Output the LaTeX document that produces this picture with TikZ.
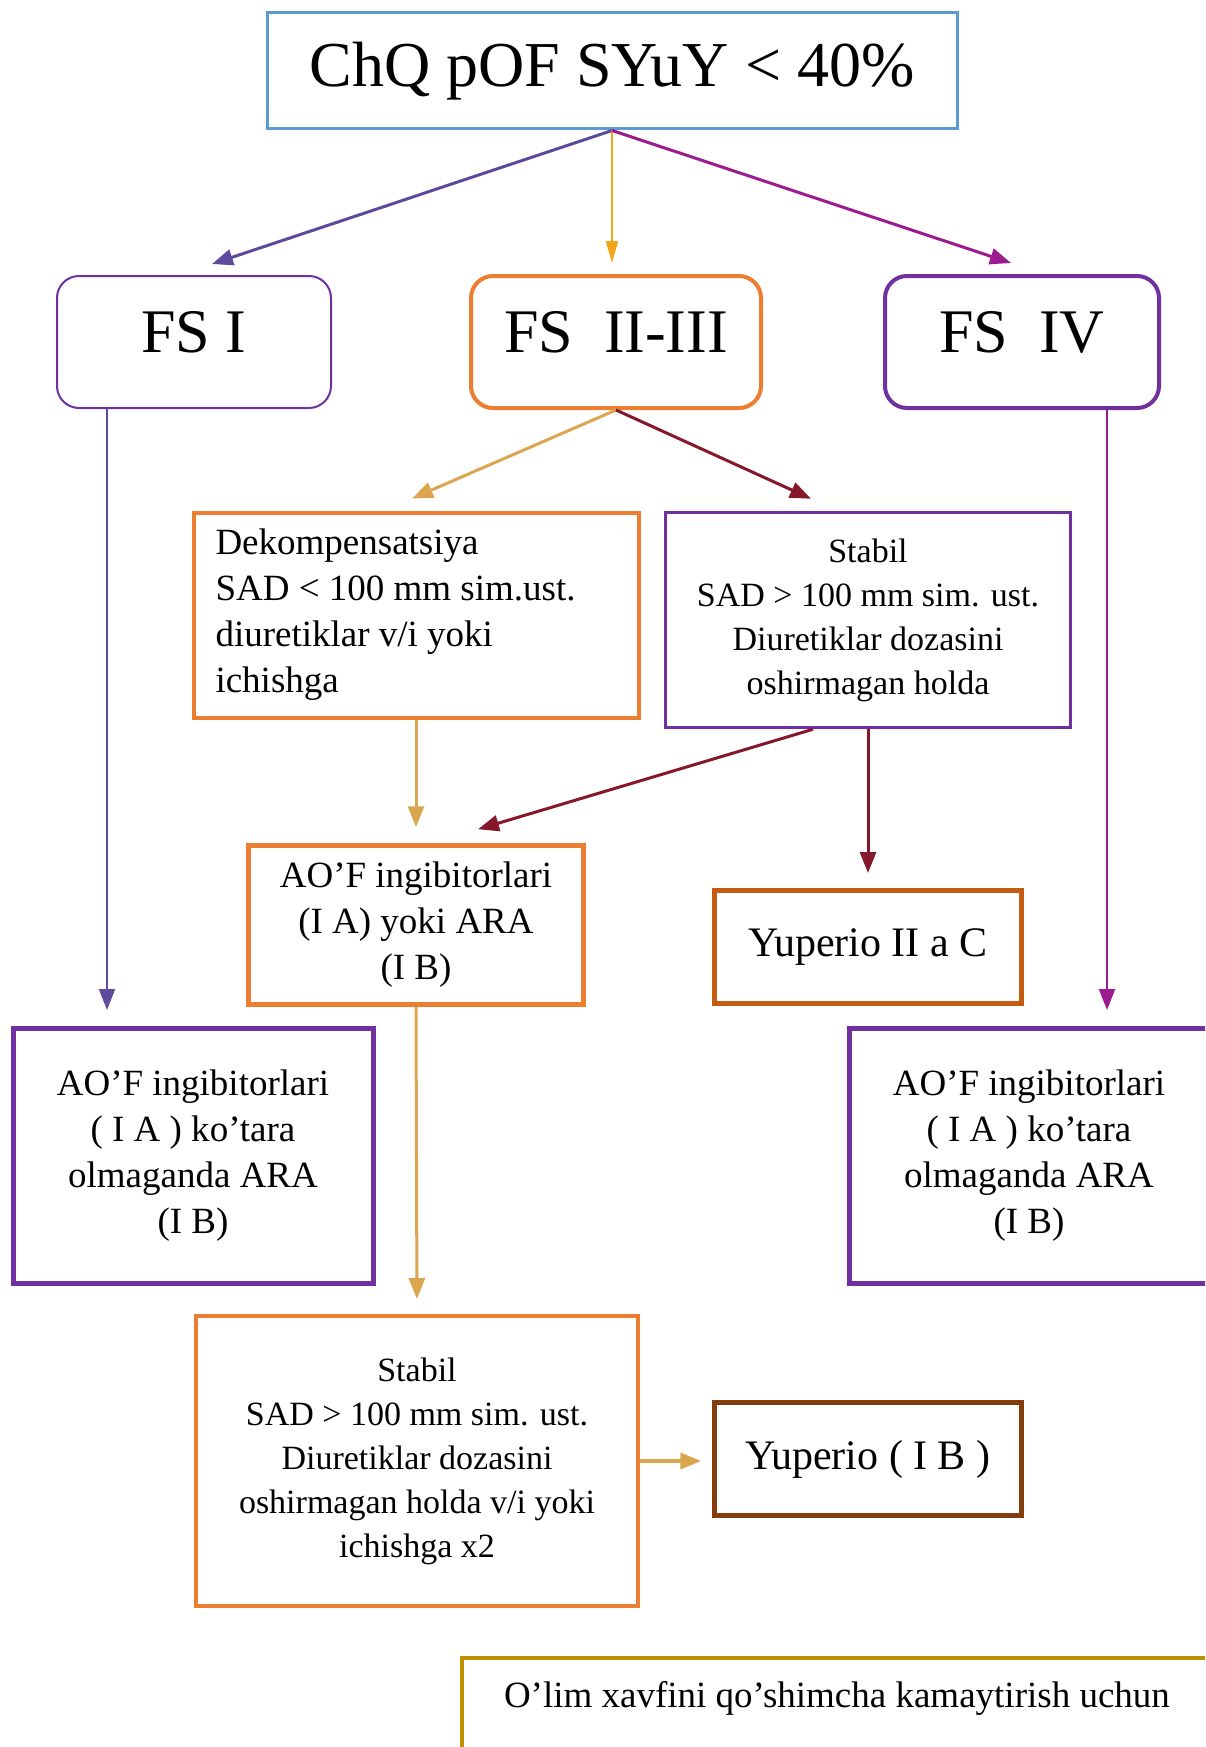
\documentclass[tikz,border=0pt]{standalone}
\usepackage{fontspec}
\setmainfont{Liberation Serif}
\usepackage{xcolor}
\usepackage{tikz}
\usetikzlibrary{calc}
\usetikzlibrary{arrows.meta}
\tikzset{>={Triangle[width=16pt,length=21pt]}}

\definecolor{topblue}{HTML}{5B9BD5}
\definecolor{boxpurple}{HTML}{7030A0}
\definecolor{boxorange}{HTML}{ED7D31}
\definecolor{darkorange}{HTML}{C55A11}
\definecolor{boxbrown}{HTML}{843C0C}
\definecolor{boxgold}{HTML}{BF9000}
\definecolor{violetline}{HTML}{5E4A9E}
\definecolor{amberline}{HTML}{F2A516}
\definecolor{magentaline}{HTML}{9B1C8E}
\definecolor{tanline}{HTML}{DCA650}
\definecolor{redline}{HTML}{86182C}

\begin{document}
\begin{tikzpicture}[x=1pt, y=-1pt, titlenode/.style={draw=topblue, line width=3pt, minimum width=690pt, minimum height=116pt, font=\fontsize{64}{70}\selectfont}, fsnode/.style={rounded corners=22pt, line width=4pt, minimum width=274pt, minimum height=132pt, text depth=20pt, font=\fontsize{62}{70}\selectfont}, boxnode/.style={line width=4pt, align=center, font=\fontsize{37}{46}\selectfont}, smallbox/.style={line width=3.5pt, align=center, font=\fontsize{34}{44}\selectfont}, yupnode/.style={line width=5pt, minimum width=307pt, minimum height=113pt, font=\fontsize{42}{50}\selectfont}]

    \useasboundingbox (0,0) rectangle (1205,1747);
    \clip (0,0) rectangle (1205,1747);

    %Nodes
    \node[titlenode](top) at (612,71){ChQ pOF SYuY < 40\%};
    \node[fsnode, draw=boxpurple, line width=2pt](fs1) at (194,342){FS I};
    \node[fsnode, draw=boxorange, minimum width=290pt](fs23) at (616,342){FS~~II-III};
    \node[fsnode, draw=boxpurple](fs4) at (1022,342){FS~~IV};
    \node[boxnode, draw=boxorange, align=flush left, text width=401pt, inner xsep=22pt, minimum height=205pt](decomp) at (416,615){Dekompensatsiya\\SAD < 100 mm sim.ust.\\diuretiklar v/i yoki\\ichishga};
    \node[smallbox, draw=boxpurple, minimum width=405pt, minimum height=215pt](stabil) at (868,620){Stabil\\SAD > 100 mm sim. ust.\\Diuretiklar dozasini\\oshirmagan holda};
    \node[boxnode, draw=boxorange, line width=4.5pt, minimum width=335pt, minimum height=159pt](aofmid) at (416,925){AO’F ingibitorlari\\(I A) yoki ARA\\(I B)};
    \node[yupnode, draw=darkorange](yup1) at (868,947){Yuperio II a C};
    \node[boxnode, draw=boxpurple, line width=5pt, minimum width=360pt, minimum height=255pt](aofl) at (193,1156){AO’F ingibitorlari\\( I A ) ko’tara\\olmaganda ARA\\(I B)};
    \node[boxnode, draw=boxpurple, line width=5pt, minimum width=360pt, minimum height=255pt](aofr) at (1029,1156){AO’F ingibitorlari\\( I A ) ko’tara\\olmaganda ARA\\(I B)};
    \node[smallbox, draw=boxorange, line width=4pt, minimum width=442pt, minimum height=290pt](stab2) at (417,1461){Stabil\\SAD > 100 mm sim. ust.\\Diuretiklar dozasini\\oshirmagan holda v/i yoki\\ichishga x2};
    \node[yupnode, draw=boxbrown, line width=4.5pt](yup2) at (868,1459){Yuperio ( I B )};
    \node[boxnode, draw=boxgold, anchor=north west, align=flush left, text width=700pt, inner xsep=42pt, inner ysep=0pt, text height=49pt, text depth=100pt](note) at (460,1656){O’lim xavfini qo’shimcha kamaytirish uchun};

    %Lines
    \draw[->, violetline, line width=3pt] (top.south) -- ($(fs1.north)+(18,-11)$);
    \draw[-{Triangle[width=12pt,length=22pt]}, amberline, line width=2pt, shorten >=11pt] (top.south) -- (top.south |- fs23.north);
    \draw[->, magentaline, line width=3pt] (top.south) -- ($(fs4.north)+(-11,-11)$);
    \draw[->, tanline, line width=3pt] (fs23.south) -- ($(decomp.north)+(-4,-12)$);
    \draw[->, redline, line width=3pt] (fs23.south) -- ($(stabil.north)+(-57,-12)$);
    \draw[->, tanline, line width=3pt, shorten >=16pt] (decomp.south) -- (aofmid.north);
    \draw[->, redline, line width=3pt] ($(stabil.south)+(-55,0)$) -- ($(aofmid.north)+(62,-14)$);
    \draw[->, redline, line width=3pt, shorten >=15pt] (stabil.south) -- (yup1.north);
    \draw[->, violetline, line width=2pt, shorten >=16pt] ($(fs1.south)+(-87,0)$) -- ($(fs1.south |- aofl.north)+(-87,0)$);
    \draw[->, magentaline, line width=2pt, shorten >=16pt] ($(fs4.south)+(85,0)$) -- ($(fs4.south |- aofr.north)+(85,0)$);
    \draw[->, tanline, line width=3pt, shorten >=15pt] (aofmid.south) -- (stab2.north);
    \draw[->, tanline, line width=4pt, shorten >=11pt] (stab2.east) -- (stab2.east -| yup2.west);

\end{tikzpicture}
\end{document}
